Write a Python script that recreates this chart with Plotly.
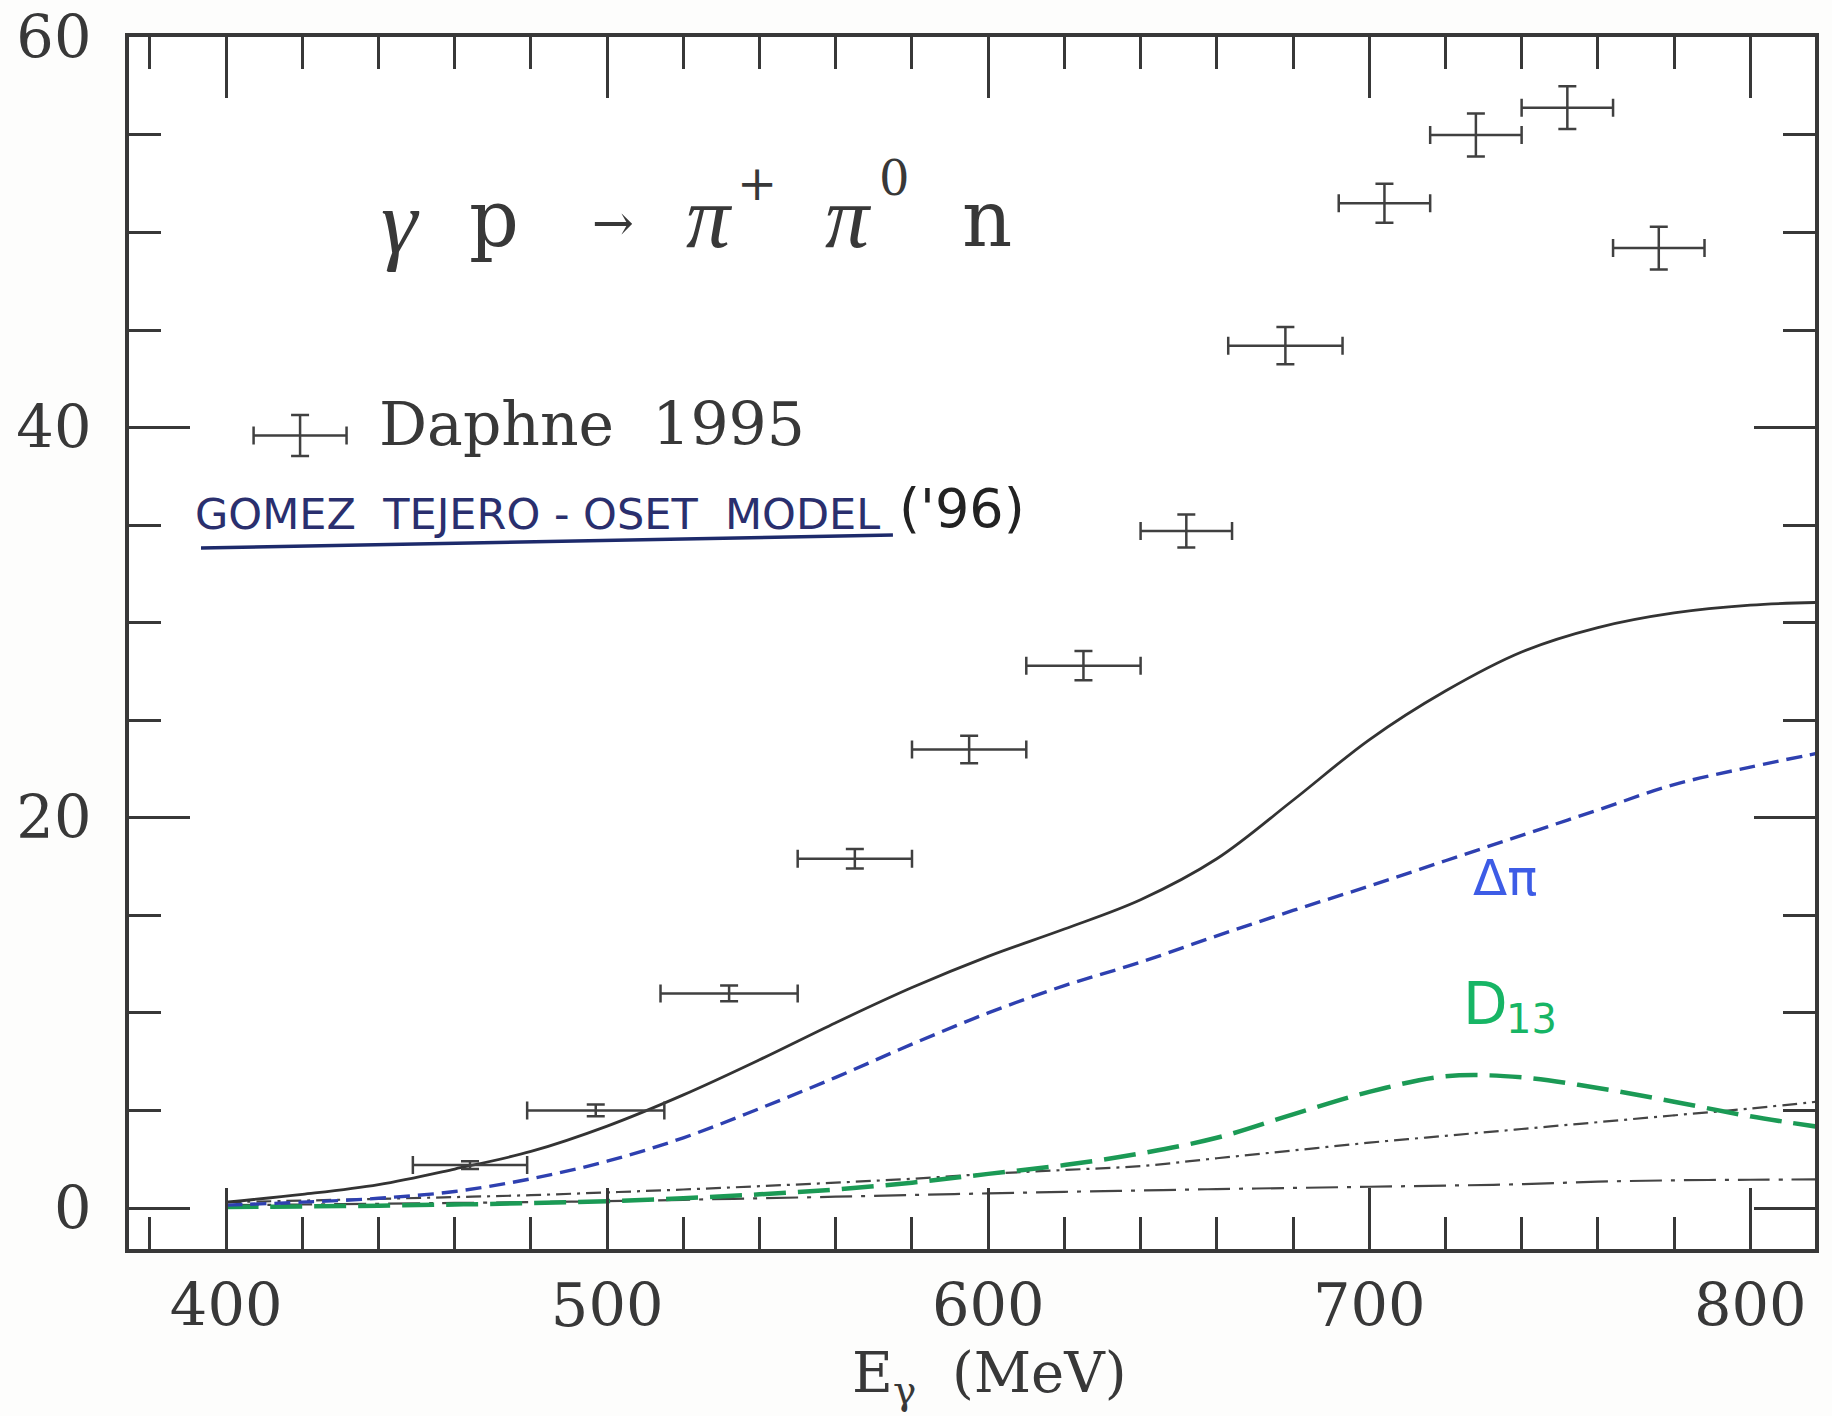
import plotly.graph_objects as go

# ---------------- data ----------------
# Daphne 1995 measurements: photon energy (MeV), cross section, half-widths
daphne_E = [464, 497, 532, 565, 595, 625, 652, 678, 704, 728, 752, 776]
daphne_sigma = [2.2, 5.0, 11.0, 17.9, 23.5, 27.8, 34.7, 44.2, 51.5, 55.0, 56.4, 49.2]
daphne_dE = [15, 18, 18, 15, 15, 15, 12, 15, 12, 12, 12, 12]
daphne_dsigma = [0.2, 0.3, 0.4, 0.5, 0.7, 0.75, 0.85, 0.95, 1.0, 1.1, 1.1, 1.1]

# legend sample glyph (drawn as an error-bar cross)
legend_E = [419.4]
legend_sigma = [39.6]
legend_dE = [12.2]
legend_dsigma = [1.05]

# Gomez Tejedor - Oset model curves
model_E = [400, 420, 440, 460, 480, 500, 520, 540, 560, 580, 600,
           620, 640, 660, 680, 700, 720, 740, 760, 780, 800, 820]
total = [0.3, 0.7, 1.2, 2.0, 2.9, 4.2, 5.8, 7.6, 9.5, 11.3, 12.9,
         14.3, 15.8, 17.9, 20.9, 24.0, 26.5, 28.5, 29.75, 30.5, 30.9, 31.05]
delta_pi = [0.15, 0.3, 0.5, 0.85, 1.5, 2.4, 3.6, 5.1, 6.7, 8.4, 10.0,
            11.4, 12.6, 13.95, 15.25, 16.5, 17.8, 19.1, 20.4, 21.7, 22.6, 23.4]
d13 = [0.05, 0.08, 0.12, 0.18, 0.25, 0.35, 0.5, 0.7, 0.95, 1.3, 1.75,
       2.2, 2.8, 3.6, 4.8, 5.95, 6.75, 6.7, 6.15, 5.45, 4.7, 4.1]
dashdot = [0.3, 0.38, 0.47, 0.56, 0.66, 0.8, 0.95, 1.12, 1.3, 1.5, 1.75,
           1.95, 2.15, 2.55, 2.95, 3.35, 3.7, 4.05, 4.4, 4.75, 5.1, 5.5]
longdashdot = [0.15, 0.18, 0.22, 0.26, 0.3, 0.35, 0.42, 0.5, 0.58, 0.67, 0.75,
               0.83, 0.9, 0.97, 1.03, 1.09, 1.15, 1.22, 1.35, 1.42, 1.45, 1.47]

x_ticks = [400, 500, 600, 700, 800]
y_ticks = [0, 20, 40, 60]

# ---------------- styling ----------------
INK = "#383838"
SERIF = "DejaVu Serif"
SANS = "DejaVu Sans"
TIMES = "Liberation Serif"

fig = go.Figure()

fig.add_trace(go.Scatter(x=model_E, y=longdashdot, mode="lines",
                         line=dict(color="#444444", width=2.2, dash="32px,9px,4px,9px", shape="spline")))
fig.add_trace(go.Scatter(x=model_E, y=dashdot, mode="lines",
                         line=dict(color="#444444", width=2.2, dash="15px,6px,3px,6px", shape="spline")))
fig.add_trace(go.Scatter(x=model_E, y=d13, mode="lines",
                         line=dict(color="#1b9a55", width=4.5, dash="32px,12px", shape="spline")))
fig.add_trace(go.Scatter(x=model_E, y=delta_pi, mode="lines",
                         line=dict(color="#2e40b0", width=3.4, dash="16px,8px", shape="spline")))
fig.add_trace(go.Scatter(x=model_E, y=total, mode="lines",
                         line=dict(color="#333333", width=2.8, shape="spline")))

err_style = dict(type="data", symmetric=True, color="#404040", thickness=2.5, width=9)
fig.add_trace(go.Scatter(
    x=daphne_E, y=daphne_sigma, mode="markers",
    marker=dict(size=1, color="rgba(0,0,0,0)"),
    error_x=dict(array=daphne_dE, **err_style),
    error_y=dict(array=daphne_dsigma, **err_style)))
fig.add_trace(go.Scatter(
    x=legend_E, y=legend_sigma, mode="markers",
    marker=dict(size=1, color="rgba(0,0,0,0)"),
    error_x=dict(array=legend_dE, **err_style),
    error_y=dict(array=legend_dsigma, **err_style)))

axis_common = dict(
    showline=True, linewidth=3.5, linecolor=INK, mirror="ticks",
    ticks="inside", ticklen=61, tickwidth=3, tickcolor=INK,
    showgrid=False, zeroline=False, ticklabeloverflow="allow", automargin=False,
    tickfont=dict(family=SERIF, size=59, color=INK),
)

fig.update_xaxes(range=[374.5, 817], tickvals=x_ticks,
                 minor=dict(ticks="inside", ticklen=32, tickwidth=3, tickcolor=INK,
                            dtick=20, tick0=400, showgrid=False),
                 ticklabelstandoff=2, **axis_common)
fig.update_yaxes(range=[-2.1, 60.02], tickvals=y_ticks,
                 minor=dict(ticks="inside", ticklen=32, tickwidth=3, tickcolor=INK,
                            dtick=5, tick0=0, showgrid=False),
                 ticklabelstandoff=22, **axis_common)

def ann(text, x, y, size, color=INK, family=SERIF, xanchor="center", style="normal"):
    return dict(text=text, x=x, y=y, xref="paper", yref="paper", showarrow=False,
                xanchor=xanchor, yanchor="middle",
                font=dict(family=family, size=size, color=color, style=style))

annotations = [
    # reaction title
    ann("γ", 0.1613, 0.8470, 92, family=TIMES, style="italic"),
    ann("p", 0.2165, 0.8499, 78),
    ann("→", 0.2871, 0.8466, 50),
    ann("π", 0.3446, 0.8511, 88, family=TIMES, style="italic"),
    ann("+", 0.3725, 0.8795, 48),
    ann("π", 0.4265, 0.8511, 88, family=TIMES, style="italic"),
    ann("0", 0.4543, 0.8837, 48),
    ann("n", 0.5089, 0.8499, 78),
    # legend text
    ann("Daphne  1995", 0.1471, 0.6807, 60, xanchor="left"),
    # handwritten notes
    ann("GOMEZ  TEJERO - OSET  MODEL", 0.2420, 0.6064, 43, color="#2a2f6e", family=SANS),
    ann("('96)", 0.4941, 0.6110, 54, color="#222222", family=SANS),
    ann("Δπ", 0.8161, 0.3061, 50, color="#3d5ce6", family=SANS),
    ann("D", 0.8043, 0.2021, 58, color="#17b565", family=SANS),
    ann("13", 0.8321, 0.1894, 40, color="#17b565", family=SANS),
    # x-axis title
    ann("E<sub>γ</sub>  (MeV)", 0.5101, -0.1054, 56),
]

fig.update_layout(
    width=1832, height=1416,
    margin=dict(l=129, r=17, t=37, b=167, autoexpand=False),
    paper_bgcolor="#fdfdfc", plot_bgcolor="#ffffff",
    showlegend=False,
    annotations=annotations,
    shapes=[dict(type="line", xref="paper", yref="paper",
                 x0=0.0427, y0=0.5784, x1=0.4531, y1=0.5891,
                 line=dict(color="#1d2a6b", width=3.5))],
)

fig.write_html("out.html")
